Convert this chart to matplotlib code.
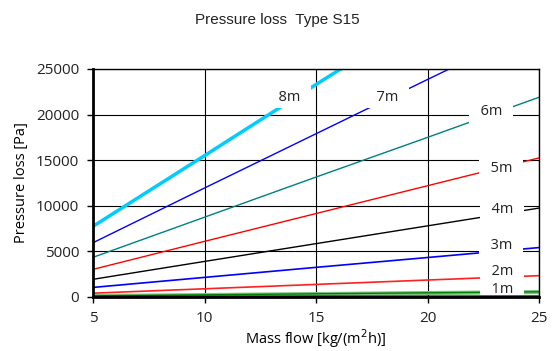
import numpy as np
import matplotlib.pyplot as plt

# mass flow [kg/(m2h)] and pressure loss [Pa]
flow = [5, 10, 15, 20, 25]
p8 = [7750, 15500, 23300, 31000, 38800]
p7 = [5950, 11950, 17900, 23850, 29750]
p6 = [4350, 8750, 13150, 17500, 21900]
p5 = [3030, 6100, 9150, 12200, 15250]
p4 = [1940, 3900, 5850, 7800, 9750]
p3 = [1050, 2150, 3250, 4330, 5420]
p2 = [420, 900, 1380, 1860, 2340]
p1 = [100, 210, 320, 430, 540]
p1b = [130, 240, 350, 460, 570]
p0 = [20, 30, 40, 50, 60]

labels = ['8m', '7m', '6m', '5m', '4m', '3m', '2m', '1m']
label_x = [13.8, 18.2, 22.85, 23.3, 23.35, 23.3, 23.35, 23.35]
label_y = [21900, 21900, 20300, 14050, 9550, 5600, 2750, 800]

fig = plt.figure(figsize=(5.55, 3.51), dpi=100)
ax = fig.add_axes([93 / 555, 1 - 297 / 351, (539 - 93) / 555, (297 - 69) / 351])

ax.plot(flow, p0, color='#000040', lw=1.6, zorder=6)
ax.plot(flow, p1, color='#80c080', lw=3, zorder=3)
ax.plot(flow, p1b, color='#008000', lw=1, zorder=3)
ax.plot(flow, p2, color='#ff2020', lw=1.2, zorder=3)
ax.plot(flow, p3, color='#0000ff', lw=1.2, zorder=3)
ax.plot(flow, p4, color='black', lw=1, zorder=3)
ax.plot(flow, p5, color='#ff0000', lw=1, zorder=3)
ax.plot(flow, p6, color='#008080', lw=1, zorder=3)
ax.plot(flow, p7, color='#0000ff', lw=1, zorder=3)
ax.plot(flow, p8, color='#00ccff', lw=2.5, zorder=3)

for lab, lx, ly in zip(labels, label_x, label_y):
    ax.text(lx, ly, '  ' + lab + '  ', ha='center', va='center', fontsize=10.5,
            family='Open Sans', color='#222222', zorder=5,
            bbox=dict(boxstyle='square,pad=0.25', fc='white', ec='none'))

ax.set_xlim(5, 25)
ax.set_ylim(0, 25000)
ax.set_xticks([5, 10, 15, 20, 25])
ax.set_yticks([0, 5000, 10000, 15000, 20000, 25000])
ax.grid(True, color='black', lw=0.8, zorder=1)
ax.set_axisbelow(True)

for s in ['left', 'bottom']:
    ax.spines[s].set_linewidth(2)
for s in ['top', 'right']:
    ax.spines[s].set_linewidth(1)
for s in ax.spines.values():
    s.set_zorder(7)

ax.tick_params(direction='out', length=4, width=1, labelsize=11, pad=6)
for t in ax.get_xticklabels() + ax.get_yticklabels():
    t.set_family('Open Sans')
    t.set_color('#222222')

ax.set_xlabel('Mass flow [kg/(m$^2$h)]', fontsize=10.5, family='Open Sans', labelpad=1)
ax.set_ylabel('Pressure loss [Pa]', fontsize=10.5, family='Open Sans', labelpad=5)
fig.text(0.5, 1 - 20 / 351, 'Pressure loss  Type S15', ha='center', va='center',
         fontsize=11, family='Liberation Sans', color='#222222')

fig.savefig('out.png', dpi=100)
